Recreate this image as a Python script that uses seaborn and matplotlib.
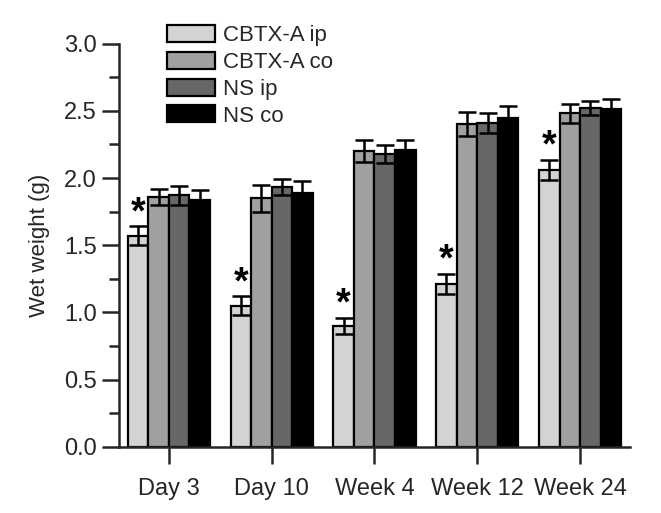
import pandas as pd
import matplotlib.pyplot as plt
import seaborn as sns
from matplotlib.ticker import MultipleLocator

# data
timepoints = ['Day 3', 'Day 10', 'Week 4', 'Week 12', 'Week 24']
groups = ['CBTX-A ip', 'CBTX-A co', 'NS ip', 'NS co']
cbtx_ip = [1.57, 1.05, 0.90, 1.21, 2.06]
cbtx_co = [1.86, 1.85, 2.20, 2.40, 2.48]
ns_ip = [1.87, 1.93, 2.18, 2.41, 2.52]
ns_co = [1.84, 1.89, 2.21, 2.45, 2.51]
cbtx_ip_err = [0.07, 0.07, 0.06, 0.075, 0.075]
cbtx_co_err = [0.06, 0.10, 0.08, 0.09, 0.07]
ns_ip_err = [0.07, 0.06, 0.065, 0.075, 0.05]
ns_co_err = [0.07, 0.09, 0.07, 0.085, 0.08]
significant = [True, True, True, True, True]

colors = ['#d3d3d3', '#a0a0a0', '#676767', '#000000']


def main():
    means = [cbtx_ip, cbtx_co, ns_ip, ns_co]
    errs = [cbtx_ip_err, cbtx_co_err, ns_ip_err, ns_co_err]
    rows = []
    for g, m, e in zip(groups, means, errs):
        for t, v, s in zip(timepoints, m, e):
            rows.append({'Time': t, 'Group': g, 'Wet weight': v, 'SE': s})
    df = pd.DataFrame(rows)

    sns.set_style('ticks')
    plt.rcParams['font.family'] = ['Liberation Sans', 'DejaVu Sans']

    fig = plt.figure(figsize=(6.61, 5.13), dpi=100)
    ax = fig.add_axes([0.18, 0.129, 0.773, 0.786])

    sns.barplot(data=df, x='Time', y='Wet weight', hue='Group',
                order=timepoints, hue_order=groups, palette=colors,
                errorbar=None, width=0.8, edgecolor='black', linewidth=1.6,
                ax=ax, zorder=2)

    # error bars and stars placed from the drawn bars
    for gi, (g, bars) in enumerate(zip(groups, ax.containers)):
        for ti, bar in enumerate(bars):
            cx = bar.get_x() + bar.get_width() / 2
            h = bar.get_height()
            e = errs[gi][ti]
            ax.errorbar(cx, h, yerr=e, fmt='none', ecolor='black',
                        elinewidth=1.8, capsize=6.8, capthick=1.8, zorder=3)
            if gi == 0 and significant[ti]:
                ax.text(cx, h + e - 0.035, '*', ha='center', va='bottom',
                        fontsize=27, fontweight='bold', color='black')

    ax.set_ylim(0, 3.0)
    ax.set_xlim(-0.485, 4.485)
    ax.yaxis.set_minor_locator(MultipleLocator(0.25))
    ax.set_yticks([0, 0.5, 1.0, 1.5, 2.0, 2.5, 3.0])
    ax.set_yticklabels(['0.0', '0.5', '1.0', '1.5', '2.0', '2.5', '3.0'])
    ax.set_xlabel('')
    ax.set_ylabel('Wet weight (g)', fontsize=16, labelpad=10)

    ax.tick_params(axis='both', which='major', labelsize=17, width=1.8,
                   length=12, direction='out')
    ax.tick_params(axis='x', pad=10.5)
    ax.tick_params(axis='y', pad=4)
    ax.tick_params(axis='y', which='minor', width=1.8, length=7)
    sns.despine(ax=ax)
    for side in ['left', 'bottom']:
        ax.spines[side].set_linewidth(1.8)

    ax.legend(loc='upper left', bbox_to_anchor=(0.252, 0.951),
              bbox_transform=fig.transFigure, frameon=False, fontsize=16,
              handlelength=2.2, handleheight=0.8, labelspacing=0.25,
              handletextpad=0.35, borderaxespad=0, borderpad=0)

    fig.savefig('out.png', dpi=100)


if __name__ == '__main__':
    main()
